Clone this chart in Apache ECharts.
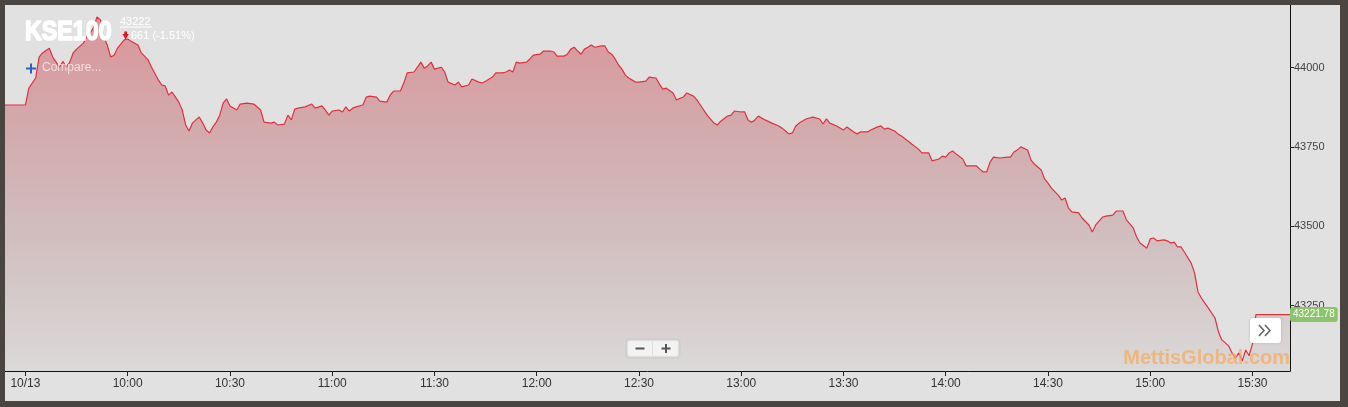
<!DOCTYPE html>
<html>
<head>
<meta charset="utf-8">
<script src="https://cdn.jsdelivr.net/npm/echarts@6/dist/echarts.min.js"></script>
<style>
  html, body { margin: 0; padding: 0; background: #4a4541; width: 1348px; height: 407px; overflow: hidden; }
  #chart { position: absolute; left: 5px; top: 5px; width: 1335px; height: 396px; background: #e1e1e1; }
</style>
</head>
<body>
<div id="chart"></div>
<script>
// ---- data ----
const times = [
  '09:24','09:30','09:31','09:33','09:34','09:35','09:37','09:38','09:39','09:40','09:41','09:42','09:43','09:44','09:45','09:47','09:48','09:49','09:50','09:51','09:52','09:53','09:54','09:55','09:56','09:57','09:59',
  '10:00','10:01','10:03','10:04','10:06','10:07','10:09','10:10','10:11','10:12','10:13','10:14','10:15','10:16','10:17','10:18','10:19','10:20','10:21','10:22','10:23','10:24','10:25','10:26','10:27','10:28','10:29',
  '10:30','10:32','10:33','10:35','10:37','10:39','10:40','10:42','10:43','10:44','10:46','10:47','10:48','10:49','10:50','10:52','10:54','10:55','10:57','10:58','10:59',
  '11:00','11:02','11:03','11:04','11:05','11:06','11:07','11:09','11:10','11:11','11:13','11:14','11:16','11:17','11:18','11:20','11:21','11:22','11:24','11:25','11:26','11:27','11:28','11:29',
  '11:30','11:32','11:33','11:34','11:36','11:37','11:38','11:40','11:41','11:43','11:44','11:45','11:47','11:48','11:50','11:51','11:52','11:53','11:54','11:55','11:57','11:58','11:59',
  '12:01','12:02','12:04','12:05','12:06','12:08','12:09','12:10','12:11','12:12','12:13','12:14','12:15','12:16','12:17','12:19','12:20','12:21','12:22','12:23','12:24','12:25','12:26','12:27','12:29',
  '12:30','12:32','12:33','12:35','12:36','12:37','12:38','12:40','12:41','12:43','12:44','12:46','12:47','12:48','12:50','12:52','12:53','12:54','12:56','12:57','12:58',
  '13:00','13:01','13:02','13:03','13:04','13:05','13:07','13:09','13:11','13:12','13:13','13:14','13:15','13:16','13:17','13:19','13:20','13:21','13:23','13:24','13:25','13:26','13:28',
  '13:30','13:31','13:33','13:34','13:35','13:37','13:38','13:40','13:41','13:42','13:43','13:45','13:46','13:47','13:49','13:50','13:52','13:53','13:55','13:56','13:58','13:59',
  '14:00','14:01','14:02','14:03','14:05','14:06','14:08','14:09','14:10','14:11','14:12','14:13','14:14','14:16','14:18','14:19','14:20','14:21','14:22','14:24','14:25','14:26','14:28','14:29',
  '14:30','14:31','14:33','14:34','14:35','14:36','14:37','14:39','14:40','14:42','14:43','14:44','14:46','14:47','14:49','14:50','14:52','14:53','14:55','14:56','14:57','14:59',
  '15:00','15:01','15:02','15:04','15:05','15:06','15:07','15:08','15:09','15:10','15:12','15:13','15:14','15:15','15:16','15:17','15:19','15:20','15:21','15:23','15:24','15:25','15:26','15:27','15:28','15:29',
  '15:30','15:31','15:41'
];
const values = [
  43882,43882,43935,43967,44033,44046,44061,44033,44017,44001,44020,44001,44017,44046,44058,44077,44096,44109,44127,44159,44150,44096,44071,44033,44039,44061,44087,
  44090,44083,44071,44046,44024,44001,43961,43945,43942,43913,43923,43907,43891,43866,43819,43800,43825,43835,43844,43825,43803,43794,43813,43828,43850,43888,43901,
  43879,43866,43885,43888,43885,43866,43828,43825,43828,43819,43822,43850,43835,43869,43872,43876,43885,43872,43879,43866,43850,
  43863,43866,43860,43876,43863,43872,43876,43882,43907,43910,43907,43894,43891,43913,43926,43926,43951,43983,43986,44001,44017,43998,44005,44017,
  43995,44001,43986,43954,43945,43954,43939,43945,43964,43954,43951,43957,43970,43983,43983,43986,43992,43986,44017,44014,44017,44027,44039,
  44042,44052,44052,44049,44036,44036,44042,44058,44064,44052,44042,44058,44064,44071,44064,44068,44068,44049,44042,44027,44008,43995,43976,43967,43954,
  43954,43957,43970,43967,43948,43932,43935,43920,43898,43907,43920,43910,43898,43882,43850,43825,43819,43831,43847,43850,43863,
  43860,43860,43835,43828,43835,43847,43835,43825,43816,43809,43800,43791,43794,43816,43825,43838,43841,43844,43838,43822,43838,43825,43816,
  43803,43813,43797,43791,43797,43797,43803,43813,43816,43806,43809,43800,43791,43784,43768,43759,43743,43731,43731,43706,43712,43721,
  43718,43731,43737,43728,43712,43690,43690,43690,43680,43671,43671,43702,43718,43715,43718,43718,43734,43740,43750,43740,43709,43696,43677,43649,
  43636,43620,43598,43583,43589,43557,43545,43542,43526,43504,43482,43504,43529,43532,43535,43548,43548,43520,43495,43466,43447,43431,
  43460,43463,43454,43457,43454,43447,43450,43435,43435,43419,43384,43353,43293,43274,43258,43243,43211,43167,43142,43123,43101,43085,43101,43076,43110,43092,
  43130,43221.78,43221.78
];
const yTickValues = [43250, 43500, 43750, 44000];
const xTickTimes = ['09:30','10:00','10:30','11:00','11:30','12:00','12:30','13:00','13:30','14:00','14:30','15:00','15:30'];
const xTickLabels = ['10/13','10:00','10:30','11:00','11:30','12:00','12:30','13:00','13:30','14:00','14:30','15:00','15:30'];
const axisStart = '09:24';
const axisEnd = '15:41';
const yMin = 43044, yMax = 44197;
const lastPrice = 43221.78;
const title = 'KSE100';
const headPrice = '43222';
const headChange = '661 (-1.51%)';
const watermark = 'MettisGlobal.com';

// ---- helpers: time of day as minutes since midnight ----
function mins(t) {
  const [h, m] = t.split(':').map(Number);
  return h * 60 + m;
}
const seriesData = times.map((t, i) => [mins(t), values[i]]);
const xTickMins = xTickTimes.map(mins);

const chart = echarts.init(document.getElementById('chart'), null, { renderer: 'canvas' });
const option = {
  animation: false,
  backgroundColor: '#e1e1e1',
  grid: { left: 0, top: 0, right: 50, bottom: 30, containLabel: false },
  xAxis: {
    type: 'value',
    min: mins(axisStart),
    max: mins(axisEnd),
    axisLine: { show: true, onZero: false, lineStyle: { color: '#111', width: 1 } },
    axisTick: { show: true, customValues: xTickMins, length: 5, lineStyle: { color: '#222' } },
    axisLabel: {
      customValues: xTickMins,
      margin: 7,
      color: '#333',
      fontSize: 12,
      fontFamily: 'Liberation Sans, Arial, sans-serif',
      formatter: function (v) { const i = xTickMins.indexOf(v); return i >= 0 ? xTickLabels[i] : ''; }
    },
    splitLine: { show: false }
  },
  yAxis: {
    type: 'value',
    position: 'right',
    min: yMin,
    max: yMax,
    axisLine: { show: true, lineStyle: { color: '#111', width: 1 } },
    axisTick: { show: true, customValues: yTickValues, length: 4, lineStyle: { color: '#222' } },
    axisLabel: {
      customValues: yTickValues,
      margin: 4,
      color: '#444',
      fontSize: 11,
      fontFamily: 'Liberation Sans, Arial, sans-serif',
      formatter: function (v) { return String(v); }
    },
    splitLine: { show: false }
  },
  series: [{
    type: 'line',
    data: seriesData,
    showSymbol: false,
    symbol: 'none',
    lineStyle: { color: '#e0303c', width: 1.2 },
    areaStyle: {
      color: new echarts.graphic.LinearGradient(0, 0, 0, 1, [
        { offset: 0, color: '#d6767d' },
        { offset: 0.3, color: '#cd9195' },
        { offset: 0.6, color: '#c9adaf' },
        { offset: 1, color: '#d8d5d5' }
      ])
    },
    markLine: {
      silent: true,
      symbol: ['none', 'none'],
      lineStyle: { color: 'rgba(0,0,0,0)', width: 1 },
      data: [{ yAxis: lastPrice }],
      label: {
        show: true,
        position: 'end',
        distance: 0,
        formatter: function () { return String(lastPrice); },
        color: '#ffffff',
        fontSize: 10,
        fontFamily: 'Liberation Sans, Arial, sans-serif',
        backgroundColor: '#8cc46e',
        padding: [3, 3, 2, 3],
        borderRadius: 3
      }
    }
  }],
  graphic: [
    { type: 'text', x: 20, y: 13, scaleX: 0.83, z: 100, style: { text: title, fill: '#ffffff', stroke: '#ffffff', lineWidth: 1.6, fontFamily: 'Liberation Sans', fontWeight: 'bold', fontSize: 28 } },
    { type: 'text', left: 115, top: 11, z: 100, style: { text: headPrice, fill: '#ffffff', fontFamily: 'Liberation Sans', fontSize: 11 } },
    { type: 'line', z: 100, shape: { x1: 115, y1: 22, x2: 147, y2: 22 }, style: { stroke: '#ffffff', lineWidth: 1 } },
    { type: 'polygon', z: 100, shape: { points: [[119.3, 26.5], [122, 26.5], [122, 29], [123.8, 29], [120.6, 34.5], [117.5, 29], [119.3, 29]] }, style: { fill: '#e8101c' } },
    { type: 'text', left: 126, top: 25, z: 100, style: { text: headChange, fill: '#ffffff', fontFamily: 'Liberation Sans', fontSize: 11 } },
    { type: 'line', z: 100, shape: { x1: 21, y1: 63.5, x2: 31, y2: 63.5 }, style: { stroke: '#2a62c4', lineWidth: 2 } },
    { type: 'line', z: 100, shape: { x1: 26, y1: 58.5, x2: 26, y2: 68.5 }, style: { stroke: '#2a62c4', lineWidth: 2 } },
    { type: 'text', left: 37, top: 57, z: 100, style: { text: 'Compare...', fill: 'rgba(255,255,255,0.65)', fontFamily: 'Liberation Sans', fontSize: 12 } },
    { type: 'rect', z: 100, shape: { x: 622, y: 335, width: 52, height: 17, r: 2 }, style: { fill: '#f3f3f3', stroke: '#d6d6d6', lineWidth: 1, shadowBlur: 2, shadowColor: 'rgba(0,0,0,0.12)' } },
    { type: 'line', z: 101, shape: { x1: 647.5, y1: 337, x2: 647.5, y2: 350 }, style: { stroke: '#dddddd', lineWidth: 1 } },
    { type: 'line', z: 101, shape: { x1: 630.5, y1: 343.5, x2: 639.5, y2: 343.5 }, style: { stroke: '#555555', lineWidth: 2 } },
    { type: 'line', z: 101, shape: { x1: 656.5, y1: 343.5, x2: 665.5, y2: 343.5 }, style: { stroke: '#555555', lineWidth: 2 } },
    { type: 'line', z: 101, shape: { x1: 661, y1: 339, x2: 661, y2: 348 }, style: { stroke: '#555555', lineWidth: 2 } },
    { type: 'rect', z: 100, shape: { x: 1245, y: 313, width: 31, height: 25, r: 3 }, style: { fill: '#ffffff', shadowBlur: 3, shadowColor: 'rgba(0,0,0,0.15)' } },
    { type: 'polyline', z: 101, shape: { points: [[1254, 320], [1259, 325.5], [1254, 331]] }, style: { stroke: '#666666', lineWidth: 1.6, fill: null } },
    { type: 'polyline', z: 101, shape: { points: [[1260, 320], [1265, 325.5], [1260, 331]] }, style: { stroke: '#666666', lineWidth: 1.6, fill: null } },
    { type: 'text', right: 50, top: 343, z: 90, style: { text: watermark, fill: 'rgba(245,170,90,0.7)', fontFamily: 'Liberation Sans', fontWeight: 'bold', fontSize: 20 } }
  ]
};
chart.setOption(option);
</script>
</body>
</html>
